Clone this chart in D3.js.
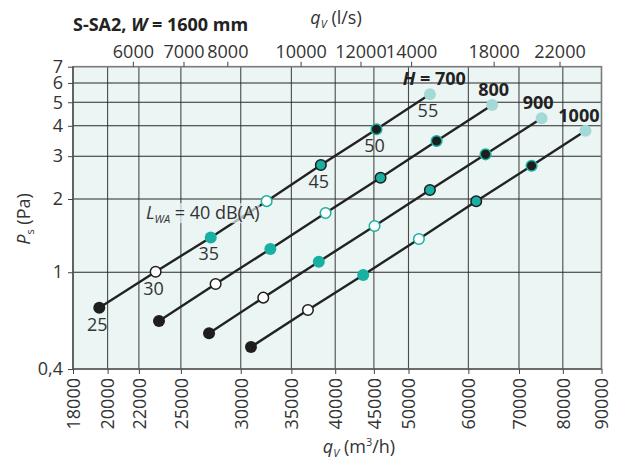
<!DOCTYPE html>
<html>
<head>
<meta charset="utf-8">
<script src="https://cdn.jsdelivr.net/npm/d3@7"></script>
<style>
  body { margin: 0; background: #fff; }
  svg text { font-family: "Open Sans", "DejaVu Sans", sans-serif; fill: #333; }
</style>
</head>
<body>
<div id="chart"></div>
<script>
// ---- data ----
var levels = [25, 30, 35, 40, 45, 50, 55];          // L_WA dB(A) at each marker
var heights = [700, 800, 900, 1000];                 // H (mm)
var flow700 = [19500, 23150, 27380, 32460, 38290, 45360, 53370];
var ps700   = [0.715, 1.005, 1.39, 1.96, 2.76, 3.87, 5.39];
var flow800 = [23390, 27790, 32830, 38840, 45920, 54470, 64510];
var ps800   = [0.630, 0.894, 1.246, 1.752, 2.447, 3.464, 4.87];
var flow900 = [27240, 32130, 38050, 45090, 53370, 63230, 74990];
var ps900   = [0.561, 0.786, 1.105, 1.549, 2.178, 3.053, 4.294];
var flow1000 = [30950, 36810, 43560, 51610, 61450, 72740, 85720];
var ps1000   = [0.493, 0.699, 0.974, 1.369, 1.957, 2.742, 3.818];

var xTicks = [18000, 20000, 22000, 25000, 30000, 35000, 40000, 45000, 50000, 60000, 70000, 80000, 90000];
var topTicks = [6000, 7000, 8000, 10000, 12000, 14000, 18000, 22000];
var yTicks = [0.4, 1, 2, 3, 4, 5, 6, 7];

var series = [
  { h: heights[0], q: flow700, p: ps700 },
  { h: heights[1], q: flow800, p: ps800 },
  { h: heights[2], q: flow900, p: ps900 },
  { h: heights[3], q: flow1000, p: ps1000 }
];

// ---- layout ----
var W = 617, H = 459;
var plotL = 73, plotR = 601.5, plotT = 66.7, plotB = 369;
var bg = "#ebf5f3", teal = "#17b0a3", lightTeal = "#a3dad5", ink = "#1e1e1e";

// marker style by sound level
var markerStyle = {
  25: { fill: ink, stroke: "none" },
  30: { fill: "#fff", stroke: ink },
  35: { fill: teal, stroke: "none" },
  40: { fill: "#fff", stroke: teal },
  45: { fill: teal, stroke: ink },
  50: { fill: ink, stroke: teal },
  55: { fill: lightTeal, stroke: "none" }
};
var hLabelDx = [36, 17, 12, 14];

var svg = d3.select("#chart").append("svg")
  .attr("width", W).attr("height", H);

var x = d3.scaleLog().domain([18000, 90000]).range([plotL, plotR]);
var xTop = d3.scaleLog().domain([18000 / 3.6, 90000 / 3.6]).range([plotL, plotR]);
var y = d3.scaleLog().domain([0.4, 7]).range([plotB, plotT]);

// background
svg.append("rect")
  .attr("x", plotL).attr("y", plotT)
  .attr("width", plotR - plotL).attr("height", plotB - plotT)
  .attr("fill", bg);

// grid
svg.append("g").selectAll("line")
  .data(xTicks.slice(1, -1))
  .enter().append("line")
  .attr("x1", function(d) { return x(d); }).attr("x2", function(d) { return x(d); })
  .attr("y1", plotT).attr("y2", plotB)
  .attr("stroke", "#4a4a4a").attr("stroke-width", 1.1);

svg.append("g").selectAll("line")
  .data(yTicks.slice(1, -1))
  .enter().append("line")
  .attr("x1", plotL).attr("x2", plotR)
  .attr("y1", function(d) { return y(d); }).attr("y2", function(d) { return y(d); })
  .attr("stroke", "#2a2a2a").attr("stroke-width", 1.1);

// frame
svg.append("rect")
  .attr("x", plotL).attr("y", plotT)
  .attr("width", plotR - plotL).attr("height", plotB - plotT)
  .attr("fill", "none").attr("stroke", "#7a7a7a").attr("stroke-width", 1.6);
svg.append("path")
  .attr("d", "M" + plotL + "," + plotT + "V" + plotB + "H" + plotR)
  .attr("fill", "none").attr("stroke", "#444").attr("stroke-width", 1.2);

// axes
var axBottom = svg.append("g")
  .attr("transform", "translate(0," + plotB + ")")
  .call(d3.axisBottom(x).tickValues(xTicks).tickFormat(d3.format("d")).tickSize(5));
axBottom.select(".domain").remove();
axBottom.selectAll("line").attr("stroke", "#444");
axBottom.selectAll("text")
  .attr("transform", "rotate(-90)")
  .attr("x", -9).attr("y", 0).attr("dy", "0.35em")
  .style("text-anchor", "end")
  .attr("font-size", "18px");

var axTop = svg.append("g")
  .attr("transform", "translate(0," + plotT + ")")
  .call(d3.axisTop(xTop).tickValues(topTicks).tickFormat(d3.format("d")).tickSize(5).tickPadding(4));
axTop.select(".domain").remove();
axTop.selectAll("line").attr("stroke", "#444");
axTop.selectAll("text").attr("font-size", "18px");

var axLeft = svg.append("g")
  .attr("transform", "translate(" + plotL + ",0)")
  .call(d3.axisLeft(y).tickValues(yTicks)
    .tickFormat(function(d) { return d === 0.4 ? "0,4" : d; })
    .tickSize(5).tickPadding(5));
axLeft.select(".domain").remove();
axLeft.selectAll("line").attr("stroke", "#444");
axLeft.selectAll("text").attr("font-size", "18px");
svg.selectAll(".tick text").style("font-family", "'Open Sans', sans-serif").attr("fill", "#333");

// lines
var line = d3.line()
  .x(function(d) { return x(d[0]); })
  .y(function(d) { return y(d[1]); });

series.forEach(function(s) {
  var pts = s.q.map(function(q, i) { return [q, s.p[i]]; });
  svg.append("path")
    .datum(pts)
    .attr("d", line)
    .attr("fill", "none")
    .attr("stroke", "#222")
    .attr("stroke-width", 2.4);
});

// L_WA label with soft backing (line shows faint behind it)
var s0 = series[0];
var lwa = svg.append("text")
  .attr("x", x(s0.q[3]) - 7)
  .attr("y", y(s0.p[3]) + 18)
  .attr("text-anchor", "end")
  .attr("font-size", "18px");
lwa.append("tspan").attr("font-style", "italic").text("L");
lwa.append("tspan").attr("font-size", "11px").attr("font-style", "italic").attr("dy", "4").text("WA");
lwa.append("tspan").attr("dy", "-4").text(" = 40 dB(A)");
var bb = lwa.node().getBBox();
svg.insert("rect", function() { return lwa.node(); })
  .attr("x", bb.x).attr("y", bb.y + 3)
  .attr("width", bb.width).attr("height", bb.height - 6)
  .attr("fill", bg).attr("opacity", 0.7);

// markers
series.forEach(function(s) {
  svg.append("g").selectAll("circle")
    .data(s.q.map(function(q, i) { return { q: q, p: s.p[i], lv: levels[i] }; }))
    .enter().append("circle")
    .attr("cx", function(d) { return x(d.q); })
    .attr("cy", function(d) { return y(d.p); })
    .attr("r", function(d) { return markerStyle[d.lv].stroke === "none" ? 6 : 5.3; })
    .attr("fill", function(d) { return markerStyle[d.lv].fill; })
    .attr("stroke", function(d) { return markerStyle[d.lv].stroke; })
    .attr("stroke-width", 1.5);
});

// level labels along H = 700
svg.append("g").selectAll("text")
  .data(levels.map(function(lv, i) { return { lv: lv, q: s0.q[i], p: s0.p[i] }; })
    .filter(function(d) { return d.lv !== 40; }))
  .enter().append("text")
  .attr("x", function(d) { return x(d.q) - 2; })
  .attr("y", function(d) { return y(d.p) + 23; })
  .attr("text-anchor", "middle")
  .attr("font-size", "18px")
  .text(function(d) { return d.lv; });

// H labels
series.forEach(function(s, i) {
  var n = s.q.length - 1;
  var t = svg.append("text")
    .attr("x", x(s.q[n]) + hLabelDx[i])
    .attr("y", y(s.p[n]) - 9)
    .attr("text-anchor", "end")
    .attr("font-size", "18px")
    .attr("font-weight", "bold")
    .style("fill", "#222");
  if (i === 0) {
    t.append("tspan").attr("font-style", "italic").text("H");
    t.append("tspan").text(" = " + s.h);
  } else {
    t.text(s.h);
  }
});

// title
var title = svg.append("text")
  .attr("x", plotL).attr("y", 31)
  .attr("font-size", "18px").attr("font-weight", "bold").style("fill", "#222");
title.append("tspan").text("S-SA2, ");
title.append("tspan").attr("font-style", "italic").text("W");
title.append("tspan").text(" = 1600 mm");

// top axis title
var tt = svg.append("text")
  .attr("x", 336).attr("y", 24)
  .attr("text-anchor", "middle").attr("font-size", "18px");
tt.append("tspan").attr("font-style", "italic").text("q");
tt.append("tspan").attr("font-size", "11px").attr("font-style", "italic").attr("dy", "4").text("V");
tt.append("tspan").attr("dy", "-4").text(" (l/s)");

// bottom axis title
var bt = svg.append("text")
  .attr("x", 359).attr("y", 453)
  .attr("text-anchor", "middle").attr("font-size", "18px");
bt.append("tspan").attr("font-style", "italic").text("q");
bt.append("tspan").attr("font-size", "11px").attr("font-style", "italic").attr("dy", "4").text("V");
bt.append("tspan").attr("dy", "-4").text(" (m");
bt.append("tspan").attr("font-size", "11px").attr("dy", "-7").text("3");
bt.append("tspan").attr("dy", "7").text("/h)");

// y axis title
var yt = svg.append("text")
  .attr("transform", "translate(30,219) rotate(-90)")
  .attr("text-anchor", "middle").attr("font-size", "18px");
yt.append("tspan").attr("font-style", "italic").text("P");
yt.append("tspan").attr("font-size", "11px").attr("dy", "4").text("s");
yt.append("tspan").attr("dy", "-4").text(" (Pa)");
</script>
</body>
</html>
